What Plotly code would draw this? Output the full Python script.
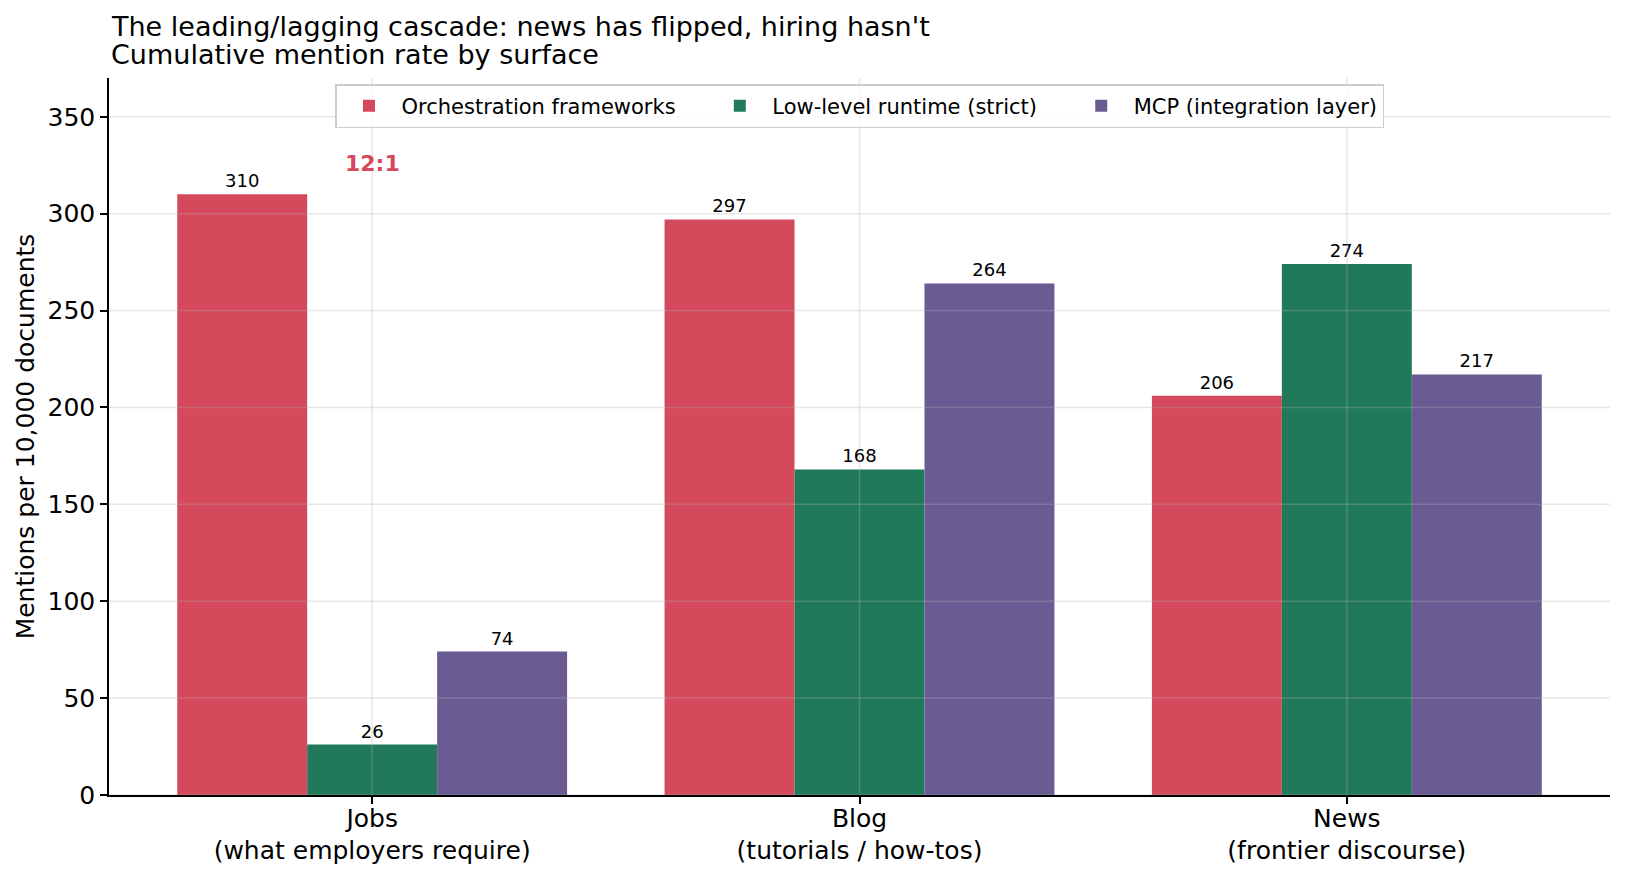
import plotly.graph_objects as go

categories = ["Jobs<br>(what employers require)", "Blog<br>(tutorials / how-tos)", "News<br>(frontier discourse)"]
series_names = ["Orchestration frameworks", "Low-level runtime (strict)", "MCP (integration layer)"]
orchestration = [310, 297, 206]
runtime = [26, 168, 274]
mcp = [74, 264, 217]
colors = ["#D44A5C", "#207A5A", "#6A5B93"]
y_ticks = [0, 50, 100, 150, 200, 250, 300, 350]
ratio_label = "12:1"
ratio_y = 326
title_line1 = "The leading/lagging cascade: news has flipped, hiring hasn't"
title_line2 = "Cumulative mention rate by surface"

FONT = "DejaVu Sans"
Y_MAX = 370
PAD = "\u00a0" * 4

fig = go.Figure()
for i, (name, vals, col) in enumerate(zip(series_names, [orchestration, runtime, mcp], colors)):
    legend_name = name + (PAD if i < len(series_names) - 1 else "")
    fig.add_trace(go.Bar(
        x=categories, y=vals, name=legend_name, marker=dict(color=col, line=dict(width=0)),
        text=[str(v) for v in vals], textposition="outside", cliponaxis=False,
        textfont=dict(family=FONT, size=18, color="black"),
    ))

fig.add_annotation(x=categories[0], y=ratio_y, text="<b>%s</b>" % ratio_label, showarrow=False,
                   font=dict(family=FONT, size=22, color="#D44A5C"), xanchor="center", yanchor="middle")

# titles
fig.add_annotation(xref="paper", yref="paper", x=0, y=(795 - 26) / 717, xanchor="left", yanchor="middle",
                   text=title_line1, showarrow=False, font=dict(family=FONT, size=27, color="black"))
fig.add_annotation(xref="paper", yref="paper", x=0, y=(795 - 55) / 717, xanchor="left", yanchor="middle",
                   text=title_line2, showarrow=False, font=dict(family=FONT, size=27, color="black"))

# gridlines drawn above bars (semi-transparent), like the reference
grid = "rgba(176,176,176,0.3)"
for t in y_ticks:
    fig.add_shape(type="line", xref="paper", yref="y", x0=0, x1=1, y0=t, y1=t,
                  line=dict(color=grid, width=1.5), layer="above")
for c in categories:
    fig.add_shape(type="line", xref="x", yref="paper", x0=c, x1=c, y0=0, y1=1,
                  line=dict(color=grid, width=1.5), layer="above")

fig.update_layout(
    width=1626, height=876,
    margin=dict(l=109, r=16, t=78, b=81),
    plot_bgcolor="white", paper_bgcolor="white",
    font=dict(family=FONT, color="black"),
    barmode="group", bargap=0.2, bargroupgap=0,
    legend=dict(orientation="h", x=0.5, xanchor="center", y=1 - 6 / 717, yanchor="top",
                bgcolor="rgba(255,255,255,0.8)", bordercolor="#CCCCCC", borderwidth=1.5,
                font=dict(family=FONT, size=21, color="black"), itemwidth=55),
    xaxis=dict(range=[-0.54, 2.54], showgrid=False, automargin=False,
               showline=True, linecolor="black", linewidth=1.5, ticks="outside", ticklen=7,
               tickwidth=1.5, tickcolor="black", tickfont=dict(family=FONT, size=25, color="black"),
               ticklabelstandoff=-7, layer="above traces"),
    yaxis=dict(range=[0, Y_MAX], tickvals=y_ticks, showgrid=False, automargin=False,
               showline=True, linecolor="black", linewidth=1.5, ticks="outside", ticklen=7,
               tickwidth=1.5, tickcolor="black", tickfont=dict(family=FONT, size=25, color="black"),
               zeroline=False, layer="above traces",
               title=dict(text="Mentions per 10,000 documents", font=dict(family=FONT, size=25, color="black"), standoff=6)),
)

fig.write_html("out.html")
